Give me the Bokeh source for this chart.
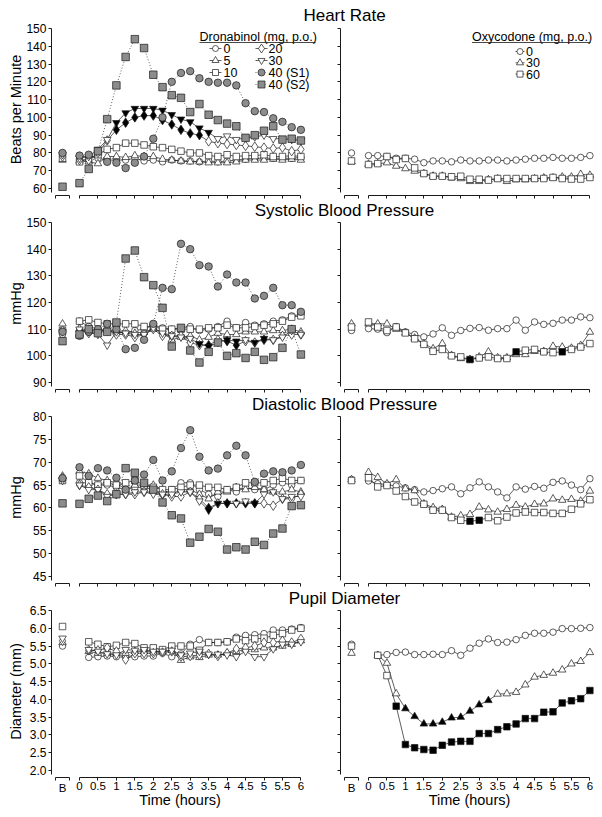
import math
from bokeh.plotting import figure
from bokeh.models import LinearAxis, FixedTicker, Range1d
from bokeh.layouts import column
from bokeh.embed import file_html
from bokeh.resources import INLINE
from bokeh.core.properties import value

FONT = "Liberation Sans"
INK = "#1a1a1a"
GRAY = "#8c8c8c"

# ---------------- data ----------------
hours = [0, 0.25, 0.5, 0.75, 1, 1.25, 1.5, 1.75, 2, 2.25, 2.5, 2.75, 3,
         3.25, 3.5, 3.75, 4, 4.25, 4.5, 4.75, 5, 5.25, 5.5, 5.75, 6]
hours_pupil = [0.25, 0.5, 0.75, 1, 1.25, 1.5, 1.75, 2, 2.25, 2.5, 2.75, 3,
               3.25, 3.5, 3.75, 4, 4.25, 4.5, 4.75, 5, 5.25, 5.5, 5.75, 6]
x_ticks = [0, 0.5, 1, 1.5, 2, 2.5, 3, 3.5, 4, 4.5, 5, 5.5, 6]
x_tick_labels = ["0", "0.5", "1", "1.5", "2", "2.5", "3", "3.5", "4", "4.5", "5", "5.5", "6"]

dronabinol_doses = ["0", "5", "10", "20", "30", "40 (S1)", "40 (S2)"]
oxycodone_doses = ["0", "30", "60"]

# Heart rate (beats per minute)
hr_dro_0 = [78, 78, 77, 76, 76, 76, 77, 75.5, 76, 75, 76, 75.5, 75.5, 75, 75.5, 75, 75.5, 76, 76.5, 77, 77, 77, 77, 77, 77.5]
hr_dro_5 = [75.5, 75, 74, 78, 78, 77.5, 78.5, 78, 78, 76.5, 76, 75.5, 75, 75, 74.5, 74.5, 74.5, 75, 76, 76, 76, 76.5, 76, 76.5, 76]
hr_dro_10 = [75, 77, 79, 82, 83, 85.5, 85.5, 84.5, 83.5, 83, 82, 81, 80, 80, 78.5, 78, 79, 78, 78.5, 78.5, 79, 78, 78, 78.5, 78]
hr_dro_20 = [76, 76, 80, 87, 93, 97, 100, 101, 101, 98.5, 96, 93, 91, 90, 86.5, 85.5, 85, 84.5, 84, 83.5, 83, 82.5, 83, 81, 82]
hr_dro_30 = [77, 78, 82, 87.5, 97, 102.5, 105, 105, 105, 104, 101.5, 99, 97.5, 94, 91.5, 88, 89.5, 87.5, 88.5, 89, 90, 88, 88, 87.5, 87]
hr_dro_s1 = [78.5, 79, 81, 75, 74.5, 71.5, 74.5, 78, 88, 100, 120, 125, 126, 122, 120, 119.5, 119.5, 118, 108, 103.5, 103, 99.5, 97.5, 94.5, 93]
hr_dro_s2 = [63, 71, 81, 99, 118, 134, 144, 139, 124, 117, 112.5, 111, 103, 107.5, 101.5, 98.5, 96.5, 95, 88.5, 90, 92.5, 95, 87.5, 88, 87]
hr_dro_base = [79, 76, 77, 78, 79, 80, 61]
hr_oxy_0 = [78.5, 78.5, 78, 77, 77, 76.5, 74.5, 75.5, 75.5, 75, 76, 75.5, 75.5, 76, 76, 75.5, 76, 76.5, 77, 77, 77.5, 77, 77, 77.5, 78.5]
hr_oxy_30 = [73.7, 74, 74.5, 72.6, 71.2, 69.8, 68.4, 67, 67, 66, 65.6, 64, 64, 65, 65.5, 64, 65, 65, 65.5, 66, 66, 66.5, 66.5, 68, 67.5]
hr_oxy_60 = [73.5, 74, 78, 76.3, 76.9, 71.6, 68.4, 66.9, 66.9, 66.6, 66.9, 65.2, 65.2, 64.7, 65.6, 65.6, 65.6, 65.6, 65.6, 65.6, 66.2, 65.6, 65.3, 65.3, 66.2]
hr_oxy_base = [80, 75, 75.5]

# Systolic blood pressure (mmHg)
sbp_dro_0 = [113, 111, 110, 109, 109, 108.5, 109.5, 110, 111.5, 110.5, 110, 110.5, 111, 109.5, 110, 111, 113, 110.5, 112.5, 111.5, 112, 113, 113.5, 115, 115.5]
sbp_dro_5 = [110, 110, 109.5, 110, 109, 109.5, 108.5, 109, 110, 109, 106, 107, 107.5, 106, 107, 108.5, 108, 108, 109, 109, 109, 109.5, 109.5, 110, 109]
sbp_dro_10 = [113, 113.5, 112.5, 112, 112, 112, 112, 111, 111, 110, 110, 110, 110, 110, 110.5, 110.5, 111.5, 110.5, 110.5, 111, 111.5, 112, 113, 114.5, 115]
sbp_dro_20 = [110, 108.5, 108.5, 110, 108, 108, 107, 108, 110, 107.5, 107.5, 107.5, 105, 104, 104, 106, 105.5, 104, 105.5, 105, 106, 106, 107.5, 108, 108]
sbp_dro_30 = [110, 109, 108, 104, 109, 108.5, 108, 108, 110.5, 108.5, 107.5, 107, 106.5, 104.5, 103.5, 105, 106, 105.5, 106, 105, 106.5, 106, 107, 109.5, 108]
sbp_dro_s1 = [107.5, 109, 110, 112, 110, 102.5, 103, 106, 112, 125.5, 125, 142, 140, 134, 133.5, 126, 130.5, 127.5, 127.5, 121.5, 122.5, 125.5, 119, 119, 116.5]
sbp_dro_s2 = [108, 110, 108.5, 109, 112.5, 136.5, 139.5, 129.5, 126.5, 118, 103.5, 110.5, 102, 97.5, 101.5, 105, 100, 101, 99.2, 101.5, 98.5, 99.5, 103, 110, 100.5]
sbp_dro_base = [108, 112, 109.5, 109.5, 109, 109, 105.5]
sbp_oxy_0 = [110.2, 110, 108.7, 111, 109, 108, 107.1, 108.2, 110.5, 107.7, 109.5, 110.3, 110.6, 109.6, 110.2, 110.2, 113.4, 109.6, 112.7, 111.8, 112.2, 113.4, 113.4, 114.6, 114.3]
sbp_oxy_30 = [112, 112, 112, 110, 108.6, 106.7, 104.6, 102.7, 104.6, 100.2, 99, 98.7, 99.6, 101.5, 99.3, 99.3, 100.5, 100.5, 101.7, 101.7, 103.6, 103.3, 102.9, 103.9, 108.9]
sbp_oxy_60 = [112.7, 110.8, 109.5, 110.8, 108.6, 106.4, 104.3, 101.7, 102.4, 100, 99.6, 98.6, 99.2, 99.6, 99, 99, 101.5, 102.1, 102.4, 101.5, 101.2, 101.5, 102.4, 103.3, 104.6]
sbp_oxy_base = [109.5, 112, 110.8]

# Diastolic blood pressure (mmHg)
dbp_dro_0 = [65.5, 65.5, 65, 65, 64.5, 64, 64.5, 64.5, 64, 63, 64, 65.5, 65.5, 64, 63, 62.5, 64, 63.5, 64.5, 64, 64, 65, 65.5, 65, 66]
dbp_dro_5 = [68, 67.5, 66.5, 66, 65.5, 64, 65, 65, 65, 64, 63, 64, 64, 63, 62, 63.5, 63.5, 64.5, 64, 64.5, 64, 63.5, 63.5, 64, 63.5]
dbp_dro_10 = [67, 65.5, 65, 65.5, 65, 65.5, 66, 65, 64.5, 64, 64, 64.5, 65, 65, 64.5, 64.5, 64, 64.5, 65.5, 65.5, 65.5, 66, 66.5, 66, 66]
dbp_dro_20 = [65, 64.5, 64, 63, 63, 63, 63, 63.5, 63.5, 63, 62.5, 62.5, 63.5, 62, 60, 61, 61, 61, 61, 61, 61, 60.5, 62, 62, 63]
dbp_dro_30 = [65, 64, 64, 62.5, 63, 63, 63.5, 63.5, 63, 63, 63, 63.5, 63.5, 61.5, 59.5, 61, 61, 61, 61.5, 61, 63, 63.5, 62, 62.5, 62.5]
dbp_dro_s1 = [68.9, 67, 68.7, 68.2, 66.6, 64, 66, 67.3, 70.5, 66, 68, 73.1, 77, 71.2, 68.2, 68.6, 71.5, 73.6, 71.5, 65.7, 67.5, 68, 67.8, 68.2, 69.4]
dbp_dro_s2 = [60.9, 62, 62.7, 61.5, 63, 68.7, 67.7, 65.5, 64, 61.2, 58.4, 57.7, 52.4, 53.7, 55.4, 54.8, 50.9, 51.4, 50.9, 52.6, 51.9, 54.4, 55.5, 60.4, 60.6]
dbp_dro_base = [66, 67, 66, 66.5, 66, 66.5, 61]
dbp_oxy_0 = [65.9, 65.3, 65.1, 64.8, 64.4, 64, 63.5, 63.8, 64.2, 64.6, 63.1, 64.4, 65.7, 64.6, 63.5, 62.2, 64.6, 64.1, 64.7, 64.3, 65.6, 65.9, 65, 64, 66.4]
dbp_oxy_30 = [67.8, 66.7, 65.3, 66.2, 64.2, 63.8, 60.9, 60.1, 59.7, 58, 58.3, 58.6, 60.2, 59.6, 59.1, 59.7, 60.6, 60.2, 60.8, 60.9, 62, 61.7, 61.9, 61.5, 63.7]
dbp_oxy_60 = [66.6, 64.6, 64.9, 63.7, 62.5, 61.3, 60.8, 59.5, 59.5, 57.9, 57.3, 57.1, 57.3, 57.9, 57.2, 58, 58.9, 59.1, 59, 59, 58.8, 58.8, 59.7, 60.9, 61.8]
dbp_oxy_base = [66.2, 66.2, 66]

# Pupil diameter (mm)
pup_dro_0 = [5.18, 5.2, 5.22, 5.2, 5.18, 5.2, 5.22, 5.22, 5.3, 5.2, 5.28, 5.55, 5.68, 5.6, 5.6, 5.62, 5.75, 5.8, 5.82, 5.85, 5.95, 5.95, 5.98, 6.02]
pup_dro_5 = [5.35, 5.3, 5.3, 5.3, 5.3, 5.35, 5.35, 5.35, 5.35, 5.38, 5.1, 5.2, 5.18, 5.25, 5.25, 5.3, 5.35, 5.4, 5.4, 5.45, 5.45, 5.5, 5.55, 5.65]
pup_dro_10 = [5.62, 5.55, 5.48, 5.52, 5.6, 5.57, 5.45, 5.45, 5.4, 5.5, 5.5, 5.5, 5.38, 5.6, 5.6, 5.62, 5.7, 5.65, 5.7, 5.72, 5.8, 5.85, 5.95, 6.0]
pup_dro_20 = [5.38, 5.38, 5.45, 5.35, 5.12, 5.3, 5.3, 5.3, 5.32, 5.35, 5.2, 5.22, 5.25, 5.28, 5.22, 5.3, 5.42, 5.45, 5.5, 5.6, 5.6, 5.65, 5.6, 5.7]
pup_dro_30 = [5.4, 5.35, 5.28, 5.25, 5.4, 5.38, 5.4, 5.35, 5.35, 5.38, 5.25, 5.3, 5.35, 5.27, 5.27, 5.25, 5.2, 5.35, 5.2, 5.2, 5.42, 5.55, 5.55, 5.62]
pup_dro_base = [5.5, 5.6, 6.05, 5.65, 5.72]
pup_oxy_0 = [5.24, 5.26, 5.32, 5.33, 5.26, 5.26, 5.27, 5.26, 5.37, 5.24, 5.44, 5.58, 5.7, 5.6, 5.61, 5.68, 5.8, 5.86, 5.86, 5.89, 5.99, 5.99, 6.0, 6.02]
pup_oxy_30 = [5.24, 5.02, 4.16, 3.74, 3.52, 3.31, 3.31, 3.36, 3.48, 3.5, 3.67, 3.85, 3.97, 4.15, 4.16, 4.2, 4.41, 4.63, 4.68, 4.74, 4.83, 5.0, 5.07, 5.32]
pup_oxy_60 = [5.24, 4.67, 3.81, 2.73, 2.64, 2.59, 2.57, 2.71, 2.8, 2.82, 2.82, 3.04, 3.04, 3.15, 3.23, 3.31, 3.46, 3.46, 3.64, 3.65, 3.9, 3.96, 4.02, 4.25]
pup_oxy_base = [5.55, 5.3, 5.5]

# time points that differ significantly from placebo (drawn filled black)
hr_dro_20_sig = [1, 1.25, 1.5, 1.75, 2, 2.25, 2.5, 2.75, 3, 3.25]
hr_dro_30_sig = [1, 1.25, 1.5, 1.75, 2, 2.25, 2.5, 2.75, 3, 3.25, 3.5]
sbp_dro_20_sig = [3.5, 4, 4.25, 5]
sbp_dro_30_sig = [3.25, 3.5, 4, 4.25, 4.75, 5]
sbp_oxy_60_sig = [2.75, 4, 5.25]
dbp_dro_20_sig = [3.5, 4, 4.25, 4.5, 4.75]
dbp_dro_30_sig = [3.5, 3.75, 4, 4.75]
dbp_oxy_60_sig = [2.75, 3]
pup_oxy_30_sig = [1, 1.25, 1.5, 1.75, 2, 2.25, 2.5, 2.75, 3, 3.25]
pup_oxy_60_sig = [0.75, 1, 1.25, 1.5, 1.75, 2, 2.25, 2.5, 2.75, 3, 3.25, 3.5, 3.75,
                  4, 4.25, 4.5, 4.75, 5, 5.25, 5.5, 5.75, 6]

# ---------------- geometry ----------------
W = 600
PXH = 36.9             # pixels per hour
X0PX = 79.0            # px from figure left to t = 0 (left panel)
XS = -X0PX / PXH
XE = (W - X0PX) / PXH
OFF = 289.0 / PXH      # right panel shift (hours)
B_POS = -0.46
B_LO, B_HI = -0.65, -0.27
YAX = -0.76
SPAN = 160.0           # px between top and bottom tick

DRO_STYLE = {
    "0": ("circle", 6.5, "white", "solid"),
    "5": ("triangle", 7.5, "white", "solid"),
    "10": ("square", 6.5, "white", "solid"),
    "20": ("diamond", 9.5, "white", "solid"),
    "30": ("inverted_triangle", 7.5, "white", "solid"),
    "40 (S1)": ("circle", 7.5, GRAY, "1 2"),
    "40 (S2)": ("square", 7.5, GRAY, "1 2"),
}
OXY_STYLE = {
    "0": ("circle", 6.5, "white", "solid"),
    "30": ("triangle", 7.5, "white", "solid"),
    "60": ("square", 6.5, "white", "solid"),
}


def lx(px):
    return (px - X0PX) / PXH


def make_row(title, ylabel, ytop, ybot, ystep, dec, H, TOP, TITLE_Y, left, right,
             tvals, show_x=False, legend=False):
    upp = (ytop - ybot) / SPAN
    XAX = TOP + 167.0
    p = figure(width=W, height=H, x_range=Range1d(XS, XE),
               y_range=Range1d(ytop - (H - TOP) * upp, ytop + TOP * upp),
               output_backend="svg", toolbar_location=None,
               x_axis_location=None, y_axis_location=None, title=None,
               min_border_left=0, min_border_right=0, min_border_top=0,
               min_border_bottom=0, outline_line_color=None)
    p.extra_x_ranges = {"right": Range1d(XS - OFF, XE - OFF)}
    p.background_fill_color = "white"
    p.border_fill_color = "white"
    p.grid.visible = False

    def ly(px):
        return ytop - (px - TOP) * upp

    n = int(round((ytop - ybot) / ystep))
    yt = [ybot + i * ystep for i in range(n + 1)]
    yover = {float(v): f"{v:.{dec}f}" for v in yt}
    x_axis_y = ly(XAX)

    for rng, show_lab in ((None, True), ("right", False)):
        ax = LinearAxis(fixed_location=YAX, bounds=(ybot - 4 * upp, ytop),
                        ticker=FixedTicker(ticks=yt, minor_ticks=[]),
                        major_label_overrides=yover,
                        major_tick_out=3, major_tick_in=0,
                        minor_tick_out=0, minor_tick_in=0,
                        major_label_standoff=2,
                        axis_line_color=INK, major_tick_line_color=INK,
                        major_label_text_font=FONT,
                        major_label_text_font_size="12px",
                        major_label_text_color=("black" if show_lab else None))
        if rng:
            ax.x_range_name = rng
        p.add_layout(ax, "left")

        xo = {float(k): v for k, v in zip(x_ticks, x_tick_labels)}
        main = LinearAxis(fixed_location=x_axis_y, bounds=(0, 6),
                          ticker=FixedTicker(ticks=x_ticks, minor_ticks=[]),
                          major_label_overrides=xo,
                          major_tick_out=3, major_tick_in=0,
                          minor_tick_out=0, minor_tick_in=0,
                          major_label_standoff=1,
                          axis_line_color=INK, major_tick_line_color=INK,
                          major_label_text_font=FONT,
                          major_label_text_font_size="11.5px",
                          major_label_text_color=("black" if show_x else None))
        bax = LinearAxis(fixed_location=x_axis_y, bounds=(B_LO - 0.001, B_HI + 0.001),
                         ticker=FixedTicker(ticks=[B_POS], minor_ticks=[B_LO, B_HI]),
                         major_label_overrides={B_POS: "B"},
                         major_tick_out=3, major_tick_in=0,
                         minor_tick_out=3, minor_tick_in=0,
                         major_label_standoff=1,
                         axis_line_color=INK, major_tick_line_color=None,
                         minor_tick_line_color=INK,
                         major_label_text_font=FONT,
                         major_label_text_font_size="11.5px",
                         major_label_text_color=("black" if show_x else None))
        if rng:
            main.x_range_name = rng
            bax.x_range_name = rng
        p.add_layout(main, "below")
        p.add_layout(bax, "below")

    # title and y label
    p.text(x=[lx(344)], y=[ly(TITLE_Y)], text=[title], text_align="center",
           text_baseline="middle", text_font=value(FONT), text_font_size="17px",
           text_color="black")
    p.text(x=[lx(15)], y=[ly(TOP + 81)], text=[ylabel], angle=math.pi / 2,
           text_align="center", text_baseline="middle", text_font=value(FONT),
           text_font_size="14.5px", text_color="black")
    if show_x:
        for cx in (179.5, 469.0):
            p.text(x=[lx(cx)], y=[ly(TOP + 189)], text=["Time (hours)"],
                   text_align="center", text_baseline="middle",
                   text_font=value(FONT), text_font_size="14.5px",
                   text_color="black")

    def draw(series, styles, rng):
        kw = {} if rng is None else {"x_range_name": rng}
        for dose, vals, base, sig in series:
            mk, sz, fill, dash = styles[dose]
            p.line(tvals, vals, line_color=INK, line_width=0.7, line_dash=dash, **kw)
            fills = ["black" if t in sig else fill for t in tvals]
            p.scatter(tvals, vals, marker=mk, size=sz, fill_color=fills,
                      line_color=INK, line_width=0.7, **kw)
        for dose, vals, base, sig in series:
            mk, sz, fill, dash = styles[dose]
            p.scatter([B_POS], [base], marker=mk, size=sz, fill_color=fill,
                      line_color=INK, line_width=0.7, **kw)

    draw(left, DRO_STYLE, None)
    draw(right, OXY_STYLE, "right")

    if legend:
        def entry(xl0, xl1, xm, xt, yl, label, style):
            mk, sz, fill, dash = style
            y = ly(yl)
            p.line([lx(xl0), lx(xl1)], [y, y], line_color=INK, line_width=0.7,
                   line_dash=dash)
            p.scatter([lx(xm)], [y], marker=mk, size=sz - 0.5, fill_color=fill,
                      line_color=INK, line_width=0.7)
            p.text(x=[lx(xt)], y=[y], text=[label], text_align="left",
                   text_baseline="middle", text_font=value(FONT),
                   text_font_size="12.5px", text_color="black")

        p.text(x=[lx(199)], y=[ly(36)], text=["Dronabinol (mg, p.o.)"],
               text_align="left", text_baseline="middle", text_font=value(FONT),
               text_font_size="12.5px", text_color="black")
        p.line([lx(199), lx(315)], [ly(42), ly(42)], line_color=INK, line_width=0.8)
        col1 = dronabinol_doses[:3]
        col2 = dronabinol_doses[3:]
        for i, d in enumerate(col1):
            entry(209, 221, 215, 223, 48 + 12 * i, d, DRO_STYLE[d])
        for i, d in enumerate(col2):
            entry(255, 267, 261, 268, 48 + 12 * i, d, DRO_STYLE[d])

        p.text(x=[lx(471.5)], y=[ly(36)], text=["Oxycodone (mg, p.o.)"],
               text_align="left", text_baseline="middle", text_font=value(FONT),
               text_font_size="12.5px", text_color="black")
        p.line([lx(471.5), lx(590)], [ly(42), ly(42)], line_color=INK, line_width=0.8)
        for i, d in enumerate(oxycodone_doses):
            entry(515, 524, 519.5, 525.5, 51 + 11.3 * i, d, OXY_STYLE[d])
    return p


row1 = make_row("Heart Rate", "Beats per Minute", 150, 60, 10, 0, 199, 28.0, 14.5,
                [("0", hr_dro_0, hr_dro_base[0], []),
                 ("5", hr_dro_5, hr_dro_base[1], []),
                 ("10", hr_dro_10, hr_dro_base[2], []),
                 ("20", hr_dro_20, hr_dro_base[3], hr_dro_20_sig),
                 ("30", hr_dro_30, hr_dro_base[4], hr_dro_30_sig),
                 ("40 (S1)", hr_dro_s1, hr_dro_base[5], []),
                 ("40 (S2)", hr_dro_s2, hr_dro_base[6], [])],
                [("0", hr_oxy_0, hr_oxy_base[0], []),
                 ("30", hr_oxy_30, hr_oxy_base[1], []),
                 ("60", hr_oxy_60, hr_oxy_base[2], [])],
                hours, legend=True)

row2 = make_row("Systolic Blood Pressure", "mmHg", 150, 90, 10, 0, 194, 23.0, 11.0,
                [("0", sbp_dro_0, sbp_dro_base[0], []),
                 ("5", sbp_dro_5, sbp_dro_base[1], []),
                 ("10", sbp_dro_10, sbp_dro_base[2], []),
                 ("20", sbp_dro_20, sbp_dro_base[3], sbp_dro_20_sig),
                 ("30", sbp_dro_30, sbp_dro_base[4], sbp_dro_30_sig),
                 ("40 (S1)", sbp_dro_s1, sbp_dro_base[5], []),
                 ("40 (S2)", sbp_dro_s2, sbp_dro_base[6], [])],
                [("0", sbp_oxy_0, sbp_oxy_base[0], []),
                 ("30", sbp_oxy_30, sbp_oxy_base[1], []),
                 ("60", sbp_oxy_60, sbp_oxy_base[2], sbp_oxy_60_sig)],
                hours)

row3 = make_row("Diastolic Blood Pressure", "mmHg", 80, 45, 5, 0, 194, 23.0, 11.0,
                [("0", dbp_dro_0, dbp_dro_base[0], []),
                 ("5", dbp_dro_5, dbp_dro_base[1], []),
                 ("10", dbp_dro_10, dbp_dro_base[2], []),
                 ("20", dbp_dro_20, dbp_dro_base[3], dbp_dro_20_sig),
                 ("30", dbp_dro_30, dbp_dro_base[4], dbp_dro_30_sig),
                 ("40 (S1)", dbp_dro_s1, dbp_dro_base[5], []),
                 ("40 (S2)", dbp_dro_s2, dbp_dro_base[6], [])],
                [("0", dbp_oxy_0, dbp_oxy_base[0], []),
                 ("30", dbp_oxy_30, dbp_oxy_base[1], []),
                 ("60", dbp_oxy_60, dbp_oxy_base[2], dbp_oxy_60_sig)],
                hours)

row4 = make_row("Pupil Diameter", "Diameter (mm)", 6.5, 2.0, 0.5, 1, 229, 23.0, 11.0,
                [("0", pup_dro_0, pup_dro_base[0], []),
                 ("5", pup_dro_5, pup_dro_base[1], []),
                 ("10", pup_dro_10, pup_dro_base[2], []),
                 ("20", pup_dro_20, pup_dro_base[3], []),
                 ("30", pup_dro_30, pup_dro_base[4], [])],
                [("0", pup_oxy_0, pup_oxy_base[0], []),
                 ("30", pup_oxy_30, pup_oxy_base[1], pup_oxy_30_sig),
                 ("60", pup_oxy_60, pup_oxy_base[2], pup_oxy_60_sig)],
                hours_pupil, show_x=True)

layout = column(row1, row2, row3, row4, spacing=0)
open("out.html", "w").write(file_html(layout, INLINE))
